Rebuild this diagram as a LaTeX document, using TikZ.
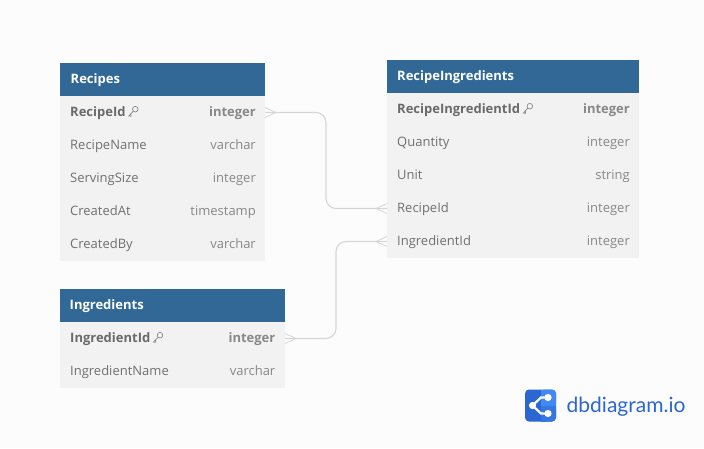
\documentclass[tikz,border=0pt]{standalone}
\usepackage{fontspec}
\setmainfont{Open Sans}
\newfontfamily\logofont{Lato}
\usetikzlibrary{positioning}
\definecolor{pagebg}{HTML}{FCFCFC}
\definecolor{headblue}{HTML}{316896}
\definecolor{rowgrey}{HTML}{F2F2F2}
\definecolor{linegrey}{HTML}{D6D6D6}
\definecolor{keytext}{HTML}{6A6A6A}
\definecolor{nametext}{HTML}{707070}
\definecolor{typetext}{HTML}{888888}
\definecolor{logoblue}{HTML}{2C66D2}
\definecolor{logolight}{HTML}{4289F3}
\definecolor{logomid}{HTML}{3477E2}
\tikzset{
	headbox/.style={fill=headblue,anchor=north west,minimum height=33pt,inner sep=0pt,outer sep=0pt},
	rowbox/.style={fill=rowgrey,anchor=north west,minimum height=33pt,inner sep=0pt,outer sep=0pt},
	headtext/.style={text=white,font=\fontsize{13}{13}\selectfont\bfseries,inner sep=0pt},
	fieldname/.style={text=nametext,font=\fontsize{13}{13}\selectfont,inner sep=0pt},
	fieldtype/.style={text=typetext,font=\fontsize{13}{13}\selectfont,inner sep=0pt},
	keyname/.style={text=keytext,font=\fontsize{13}{13}\selectfont\bfseries,inner sep=0pt},
	keytype/.style={text=typetext,font=\fontsize{13}{13}\selectfont\bfseries,inner sep=0pt},
	reline/.style={draw=linegrey,line width=1.1pt,rounded corners=10pt},
	crowfoot/.style={draw=linegrey,line width=0.8pt},
	keyicon/.style={draw=typetext,line width=0.7pt},
}
\begin{document}
\begin{tikzpicture}[x=1pt,y=-1pt]
	\fill[pagebg] (0,0) rectangle (704,448);
	\useasboundingbox (0,0) rectangle (704,448);

	% Recipes
	\node[headbox,minimum width=205pt] (recipes) at (60,63) {};
	\node[headtext,anchor=base west] (recipestitle) at (70.5,83) {Recipes};
	\foreach \rowname/\rowtype [count=\i] in {RecipeId/integer,RecipeName/varchar,ServingSize/integer,CreatedAt/timestamp,CreatedBy/varchar}{
		\node[rowbox,minimum width=205pt] (recipes\i) at (60,63+33*\i) {};
		\ifnum\i=1
			\node[keyname,anchor=base west] (recipesname\i) at (70,63+33*\i+20) {\rowname};
			\node[keytype,anchor=base east] (recipestype\i) at (256,63+33*\i+20) {\rowtype};
		\else
			\node[fieldname,anchor=base west] (recipesname\i) at (70,63+33*\i+20) {\rowname};
			\node[fieldtype,anchor=base east] (recipestype\i) at (256,63+33*\i+20) {\rowtype};
		\fi
	}

	% RecipeIngredients
	\node[headbox,minimum width=252pt] (recipeing) at (387,60) {};
	\node[headtext,anchor=base west] (recipeingtitle) at (397,80) {RecipeIngredients};
	\foreach \rowname/\rowtype [count=\i] in {RecipeIngredientId/integer,Quantity/integer,Unit/string,RecipeId/integer,IngredientId/integer}{
		\node[rowbox,minimum width=252pt] (recipeing\i) at (387,60+33*\i) {};
		\ifnum\i=1
			\node[keyname,anchor=base west] (recipeingname\i) at (397,60+33*\i+20) {\rowname};
			\node[keytype,anchor=base east] (recipeingtype\i) at (630,60+33*\i+20) {\rowtype};
		\else
			\node[fieldname,anchor=base west] (recipeingname\i) at (397,60+33*\i+20) {\rowname};
			\node[fieldtype,anchor=base east] (recipeingtype\i) at (630,60+33*\i+20) {\rowtype};
		\fi
	}

	% Ingredients
	\node[headbox,minimum width=225pt] (ingredients) at (60,289) {};
	\node[headtext,anchor=base west] (ingredientstitle) at (69.5,309) {Ingredients};
	\foreach \rowname/\rowtype [count=\i] in {IngredientId/integer,IngredientName/varchar}{
		\node[rowbox,minimum width=225pt] (ingredients\i) at (60,289+33*\i) {};
		\ifnum\i=1
			\node[keyname,anchor=base west] (ingredientsname\i) at (70,289+33*\i+20) {\rowname};
			\node[keytype,anchor=base east] (ingredientstype\i) at (275.5,289+33*\i+20) {\rowtype};
		\else
			\node[fieldname,anchor=base west] (ingredientsname\i) at (70,289+33*\i+20) {\rowname};
			\node[fieldtype,anchor=base east] (ingredientstype\i) at (275.5,289+33*\i+20) {\rowtype};
		\fi
	}

	% key icons
	\foreach \keyname in {recipesname1,recipeingname1,ingredientsname1}{
		\draw[keyicon] ([shift={(9.5,-6.8)}]\keyname.base east) circle (2.8pt);
		\draw[keyicon] ([shift={(7.5,-4.8)}]\keyname.base east) -- ++(-4.5,4.8) -- ++(2.2,0.3) -- ++(0,-2);
	}

	% connectors
	\coordinate (midone) at (326,0);
	\coordinate (midtwo) at (336,0);
	\draw[reline] (recipes1.east) -- (recipes1.east -| midone) -- (recipeing4.west -| midone) -- (recipeing4.west);
	\draw[reline] (ingredients1.east) -- (ingredients1.east -| midtwo) -- (recipeing5.west -| midtwo) -- (recipeing5.west);

	% crow feet
	\foreach \tableend in {recipes1,ingredients1}{
		\draw[crowfoot] ([yshift=5pt]\tableend.east) -- ([xshift=11pt]\tableend.east) -- ([yshift=-5pt]\tableend.east);
	}
	\foreach \tableend in {recipeing4,recipeing5}{
		\draw[crowfoot] ([yshift=5pt]\tableend.west) -- ([xshift=-11pt]\tableend.west) -- ([yshift=-5pt]\tableend.west);
	}

	% logo
	\fill[logoblue,rounded corners=4pt] (525,389.5) rectangle (556,421.5);
	\fill[logomid,rounded corners=4pt] (541,405.5) rectangle (556,421.5);
	\fill[logomid] (541,405.5) rectangle (556,412);
	\fill[logomid] (541,405.5) rectangle (546,421.5);
	\fill[logolight,rounded corners=4pt] (541,389.5) rectangle (556,405.5);
	\fill[logolight] (541,396) rectangle (556,405.5);
	\fill[logolight] (541,389.5) rectangle (546,405.5);
	\draw[white,line width=2.2pt] (548,397.5) -- (541,397.5) -- (532.5,405.5) -- (541,413.5) -- (548,413.5);
	\fill[white] (532.5,405.5) circle (3.6pt);
	\fill[white] (548,397.5) circle (3.6pt);
	\fill[white] (548,413.5) circle (3.6pt);
	\node[text=logoblue,font=\logofont\fontsize{21}{21}\selectfont,anchor=base west,inner sep=0pt] (logotext) at (566.5,412.5) {dbdiagram.io};
\end{tikzpicture}
\end{document}
